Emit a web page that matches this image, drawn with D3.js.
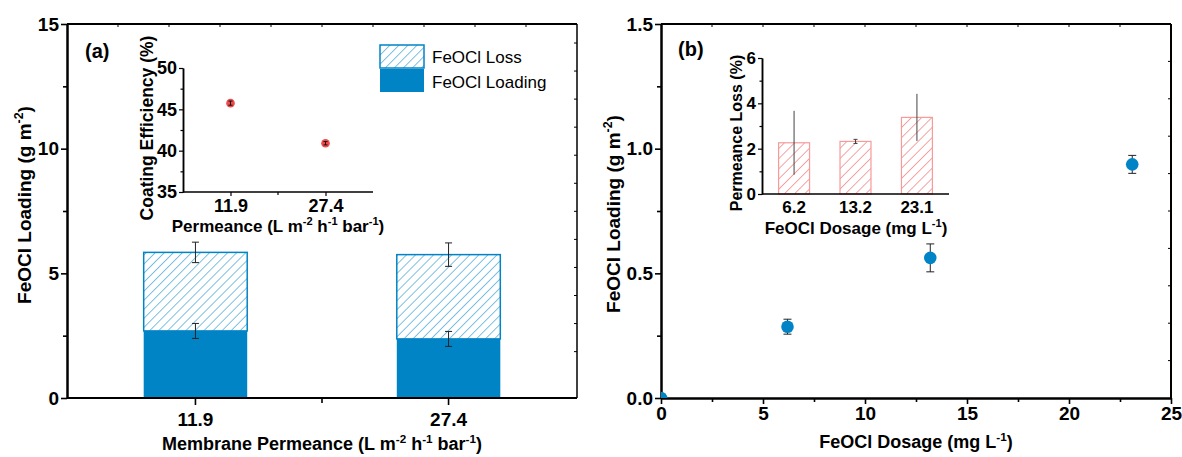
<!DOCTYPE html>
<html lang="en">
<head>
    <meta charset="UTF-8">
    <title>FeOCl loading</title>
    <script src="https://cdn.jsdelivr.net/npm/d3@7"></script>
    <style>
        body { margin: 0; background: #fff; font-family: Arial, "Liberation Sans", sans-serif; }
        svg text { font-family: Arial, "Liberation Sans", sans-serif; }
    </style>
</head>
<body>
<svg id="chart" width="1182" height="457"></svg>
<script>
// ---- data ----
const permeances = ["11.9", "27.4"];
const loadingVals = [2.69, 2.37];
const loadingErr = [0.30, 0.30];
const totalVals = [5.84, 5.75];          // loading + loss
const totalErr = [0.41, 0.47];

const efficiencyVals = [45.75, 40.9];
const efficiencyErr = [0.25, 0.2];

const dosages = [0, 6.2, 13.2, 23.1];
const dosageLoading = [0, 0.286, 0.562, 0.937];
const dosageLoadingErr = [0, 0.03, 0.056, 0.036];

const lossDosages = ["6.2", "13.2", "23.1"];
const permeanceLoss = [2.26, 2.32, 3.38];
const permeanceLossErr = [1.41, 0.09, 1.04];

const yTicksA = [0, 5, 10, 15];
const yTicksB = [0, 0.5, 1.0, 1.5];
const xTicksB = [0, 5, 10, 15, 20, 25];
const insetTicksA = [35, 40, 45, 50];
const insetTicksB = [0, 2, 4, 6];

const blue = "#0084c6";
const red = "#f04a4a";

const svg = d3.select("#chart");
svg.append("rect").attr("width", 1182).attr("height", 457).attr("fill", "#fff");

const defs = svg.append("defs");
function hatch(id, color, gap) {
    const p = defs.append("pattern").attr("id", id)
        .attr("patternUnits", "userSpaceOnUse")
        .attr("width", gap).attr("height", gap)
        .attr("patternTransform", "rotate(45)");
    p.append("rect").attr("width", gap).attr("height", gap).attr("fill", "#fff");
    p.append("line").attr("x1", 0).attr("y1", 0).attr("x2", 0).attr("y2", gap)
        .attr("stroke", color).attr("stroke-width", 1);
}
hatch("hatchBlue", blue, 6.4);
hatch("hatchRed", red, 7.2);

// text with superscripts: parts = [[text, isSup], ...]
function richText(g, parts, x, y, size, opts = {}) {
    const t = g.append("text").attr("x", x).attr("y", y)
        .style("font-size", size + "px").style("font-weight", opts.weight || "bold")
        .attr("text-anchor", opts.anchor || "middle").attr("fill", "#000");
    if (opts.rotate) t.attr("transform", `rotate(-90,${x},${y})`);
    let up = false;
    parts.forEach(([s, sup]) => {
        const ts = t.append("tspan").text(s);
        if (sup && !up) { ts.attr("dy", -size * 0.4).style("font-size", (size * 0.65) + "px"); up = true; }
        else if (sup) { ts.style("font-size", (size * 0.65) + "px"); }
        else if (!sup && up) { ts.attr("dy", size * 0.4); up = false; }
    });
    return t;
}

function errBar(g, x, y0, y1, cap, color) {
    g.append("line").attr("x1", x).attr("x2", x).attr("y1", y0).attr("y2", y1)
        .attr("stroke", color).attr("stroke-width", 1);
    if (cap > 0) {
        [y0, y1].forEach(yy => g.append("line").attr("x1", x - cap).attr("x2", x + cap)
            .attr("y1", yy).attr("y2", yy).attr("stroke", color).attr("stroke-width", 1));
    }
}

function styleAxis(sel, size, sw) {
    sel.attr("font-family", null).attr("font-size", null);
    sel.selectAll("path").attr("stroke", "#000").attr("stroke-width", sw);
    sel.selectAll("line").attr("stroke", "#000").attr("stroke-width", sw * 0.8);
    sel.selectAll("text").style("font-size", size + "px").style("font-weight", "bold").attr("fill", "#000");
}

function mids(vals) {
    const out = [];
    for (let i = 0; i < vals.length - 1; i++) out.push((vals[i] + vals[i + 1]) / 2);
    return out;
}

// =================== panel (a) ===================
const A = { l: 67, r: 577, t: 24, b: 398 };
const xA = d3.scaleBand().domain(permeances).range([A.l, A.r]).paddingInner(0.591).paddingOuter(0.303);
const yA = d3.scaleLinear().domain([0, 15]).range([A.b, A.t]);
const gA = svg.append("g");

// bars
permeances.forEach((p, i) => {
    gA.append("rect").attr("x", xA(p)).attr("width", xA.bandwidth())
        .attr("y", yA(totalVals[i])).attr("height", yA(loadingVals[i]) - yA(totalVals[i]))
        .attr("fill", "url(#hatchBlue)").attr("stroke", blue).attr("stroke-width", 1.5);
    gA.append("rect").attr("x", xA(p)).attr("width", xA.bandwidth())
        .attr("y", yA(loadingVals[i])).attr("height", yA(0) - yA(loadingVals[i]))
        .attr("fill", blue);
    const cx = xA(p) + xA.bandwidth() / 2;
    errBar(gA, cx, yA(totalVals[i] + totalErr[i]), yA(totalVals[i] - totalErr[i]), 3.5, "#222");
    errBar(gA, cx, yA(loadingVals[i] + loadingErr[i]), yA(loadingVals[i] - loadingErr[i]), 3.5, "#222");
});

// axes
gA.append("g").attr("transform", `translate(${A.l},0)`)
    .call(d3.axisLeft(yA).tickValues(yTicksA).tickFormat(d3.format("d")).tickSize(6).tickSizeOuter(0).tickPadding(2))
    .call(s => styleAxis(s, 19, 2));
gA.append("g").attr("transform", `translate(${A.l},0)`)
    .call(d3.axisLeft(yA).tickValues(mids(yTicksA)).tickSize(4).tickFormat("").tickSizeOuter(0))
    .call(s => styleAxis(s, 19, 2));
gA.append("g").attr("transform", `translate(0,${A.b})`)
    .call(d3.axisBottom(xA).tickSize(7).tickSizeOuter(0).tickPadding(8))
    .call(s => styleAxis(s, 19, 2))
    .call(s => s.select("path").attr("d", `M${A.l},0H${A.r}`));
const midA = d3.mean(permeances, p => xA(p) + xA.bandwidth() / 2);
gA.append("line").attr("x1", midA).attr("x2", midA)
    .attr("y1", A.b).attr("y2", A.b + 5).attr("stroke", "#000").attr("stroke-width", 1.6);
// top & right frame with inner ticks
gA.append("line").attr("x1", A.l).attr("x2", A.r).attr("y1", A.t).attr("y2", A.t).attr("stroke", "#000").attr("stroke-width", 2);
gA.append("line").attr("x1", A.r).attr("x2", A.r).attr("y1", A.t).attr("y2", A.b).attr("stroke", "#000").attr("stroke-width", 1.5);
const topA = d3.scaleLinear().domain([0, 10]).range([A.l, A.r]);
d3.range(1, 10).forEach(k => gA.append("line").attr("x1", topA(k)).attr("x2", topA(k))
    .attr("y1", A.t).attr("y2", A.t + 3).attr("stroke", "#000").attr("stroke-width", 1));
const rightA = d3.scaleLinear().domain([0, 13.33]).range([A.t + 19, A.t + 19 + 374]);
d3.range(0, 12).forEach(k => gA.append("line").attr("x1", A.r).attr("x2", A.r - 3)
    .attr("y1", rightA(k)).attr("y2", rightA(k)).attr("stroke", "#000").attr("stroke-width", 1));

richText(gA, [["FeOCl Loading (g m"], ["-2", true], [")"]], 31, 205, 19, { rotate: true });
richText(gA, [["Membrane Permeance (L m"], ["-2", true], [" h"], ["-1", true], [" bar"], ["-1", true], [")"]], 322, 450, 18);
gA.append("text").attr("x", 85).attr("y", 58).style("font-size", "20px").style("font-weight", "bold").text("(a)");

// legend
const legA = gA.append("g");
legA.append("rect").attr("x", 380).attr("y", 45).attr("width", 44).attr("height", 23)
    .attr("fill", "url(#hatchBlue)").attr("stroke", blue).attr("stroke-width", 1.5);
legA.append("rect").attr("x", 380).attr("y", 69).attr("width", 44).attr("height", 23)
    .attr("fill", blue);
legA.append("text").attr("x", 432).attr("y", 63).style("font-size", "17px").text("FeOCl Loss");
legA.append("text").attr("x", 432).attr("y", 88).style("font-size", "17px").text("FeOCl Loading");

// inset (a)
const IA = { l: 183, r: 373, t: 68, b: 192 };
const xIA = d3.scalePoint().domain(permeances).range([IA.l, IA.r]).padding(0.5);
const yIA = d3.scaleLinear().domain([35, 50]).range([IA.b, IA.t]);
const gIA = svg.append("g");
gIA.append("g").attr("transform", `translate(${IA.l},0)`)
    .call(d3.axisLeft(yIA).tickValues(insetTicksA).tickFormat(d3.format("d")).tickSize(4).tickSizeOuter(0).tickPadding(2))
    .call(s => styleAxis(s, 18, 1.5));
gIA.append("g").attr("transform", `translate(${IA.l},0)`)
    .call(d3.axisLeft(yIA).tickValues(mids(insetTicksA)).tickSize(2.5).tickFormat("").tickSizeOuter(0))
    .call(s => styleAxis(s, 18, 1.5));
gIA.append("g").attr("transform", `translate(0,${IA.b})`)
    .call(d3.axisBottom(xIA).tickSize(4).tickSizeOuter(0).tickPadding(3))
    .call(s => styleAxis(s, 18, 1.5))
    .call(s => s.select("path").attr("d", `M${IA.l},0H${IA.r}`));
const midIA = d3.mean(permeances, p => xIA(p));
gIA.append("line").attr("x1", midIA).attr("x2", midIA)
    .attr("y1", IA.b).attr("y2", IA.b + 3).attr("stroke", "#000").attr("stroke-width", 1.2);
permeances.forEach((p, i) => {
    gIA.append("circle").attr("cx", xIA(p)).attr("cy", yIA(efficiencyVals[i])).attr("r", 4.3).attr("fill", red);
    errBar(gIA, xIA(p), yIA(efficiencyVals[i] + efficiencyErr[i]), yIA(efficiencyVals[i] - efficiencyErr[i]), 2, "#111");
});
richText(gIA, [["Coating Efficiency (%)"]], 153, 128, 17.5, { rotate: true });
richText(gIA, [["Permeance (L m"], ["-2", true], [" h"], ["-1", true], [" bar"], ["-1", true], [")"]], 278, 232, 17);

// =================== panel (b) ===================
const B = { l: 661, r: 1171, t: 24, b: 398 };
const xB = d3.scaleLinear().domain([0, 25]).range([B.l, B.r]);
const yB = d3.scaleLinear().domain([0, 1.5]).range([B.b, B.t]);
const gB = svg.append("g");

defs.append("clipPath").attr("id", "clipB").append("rect")
    .attr("x", B.l).attr("y", B.t).attr("width", B.r - B.l).attr("height", B.b - B.t);

gB.append("g").attr("transform", `translate(${B.l},0)`)
    .call(d3.axisLeft(yB).tickValues(yTicksB).tickFormat(d3.format(".1f")).tickSize(6).tickSizeOuter(0).tickPadding(2))
    .call(s => styleAxis(s, 19, 2));
gB.append("g").attr("transform", `translate(${B.l},0)`)
    .call(d3.axisLeft(yB).tickValues(mids(yTicksB)).tickSize(4).tickFormat("").tickSizeOuter(0))
    .call(s => styleAxis(s, 19, 2));
gB.append("g").attr("transform", `translate(0,${B.b})`)
    .call(d3.axisBottom(xB).tickValues(xTicksB).tickFormat(d3.format("d")).tickSize(6).tickSizeOuter(0).tickPadding(3))
    .call(s => styleAxis(s, 19, 2));
gB.append("g").attr("transform", `translate(0,${B.b})`)
    .call(d3.axisBottom(xB).tickValues(mids(xTicksB)).tickSize(4).tickFormat("").tickSizeOuter(0))
    .call(s => styleAxis(s, 19, 2));
gB.append("line").attr("x1", B.l).attr("x2", B.r).attr("y1", B.t).attr("y2", B.t).attr("stroke", "#000").attr("stroke-width", 2);
gB.append("line").attr("x1", B.r).attr("x2", B.r).attr("y1", B.t).attr("y2", B.b).attr("stroke", "#000").attr("stroke-width", 2);
d3.range(2.5, 25, 2.5).forEach(v => gB.append("line").attr("x1", xB(v)).attr("x2", xB(v))
    .attr("y1", B.t).attr("y2", B.t + 3).attr("stroke", "#000").attr("stroke-width", 1));
const rightB = d3.scaleLinear().domain([0, 10]).range([B.t, B.b]);
d3.range(1, 10).forEach(k => gB.append("line").attr("x1", B.r).attr("x2", B.r - 3)
    .attr("y1", rightB(k)).attr("y2", rightB(k)).attr("stroke", "#000").attr("stroke-width", 1));

const ptsB = gB.append("g").attr("clip-path", "url(#clipB)");
dosages.forEach((d, i) => {
    if (dosageLoadingErr[i] > 0) {
        errBar(ptsB, xB(d), yB(dosageLoading[i] + dosageLoadingErr[i]), yB(dosageLoading[i] - dosageLoadingErr[i]), 4, "#222");
    }
    ptsB.append("circle").attr("cx", xB(d)).attr("cy", yB(dosageLoading[i])).attr("r", 6.3).attr("fill", blue);
});

richText(gB, [["FeOCl Loading (g m"], ["-2", true], [")"]], 620, 214, 19, { rotate: true });
richText(gB, [["FeOCl Dosage (mg L"], ["-1", true], [")"]], 916, 448, 18);
gB.append("text").attr("x", 678).attr("y", 56).style("font-size", "20px").style("font-weight", "bold").text("(b)");

// inset (b)
const IB = { l: 762, r: 949, t: 58, b: 194 };
const xIB = d3.scaleBand().domain(lossDosages).range([IB.l, IB.r]).paddingInner(0.496).paddingOuter(0.27);
const yIB = d3.scaleLinear().domain([0, 6]).range([IB.b, IB.t]);
const gIB = svg.append("g");
lossDosages.forEach((d, i) => {
    gIB.append("rect").attr("x", xIB(d)).attr("width", xIB.bandwidth())
        .attr("y", yIB(permeanceLoss[i])).attr("height", yIB(0) - yIB(permeanceLoss[i]))
        .attr("fill", "url(#hatchRed)").attr("stroke", "#f79a9a").attr("stroke-width", 1.2);
    const cx = xIB(d) + xIB.bandwidth() / 2;
    errBar(gIB, cx, yIB(permeanceLoss[i] + permeanceLossErr[i]), yIB(permeanceLoss[i] - permeanceLossErr[i]),
        permeanceLossErr[i] < 0.5 ? 2 : 0, "#444");
});
gIB.append("g").attr("transform", `translate(${IB.l},0)`)
    .call(d3.axisLeft(yIB).tickValues(insetTicksB).tickFormat(d3.format("d")).tickSize(4).tickSizeOuter(0).tickPadding(2))
    .call(s => styleAxis(s, 17, 1.5));
gIB.append("g").attr("transform", `translate(${IB.l},0)`)
    .call(d3.axisLeft(yIB).tickValues(mids(insetTicksB)).tickSize(2.5).tickFormat("").tickSizeOuter(0))
    .call(s => styleAxis(s, 17, 1.5));
gIB.append("g").attr("transform", `translate(0,${IB.b})`)
    .call(d3.axisBottom(xIB).tickSize(0).tickSizeOuter(0).tickPadding(7))
    .call(s => styleAxis(s, 17, 1.5))
    .call(s => s.select("path").attr("d", `M${IB.l},0H${IB.r}`));
richText(gIB, [["Permeance Loss (%)"]], 742, 133, 16, { rotate: true });
richText(gIB, [["FeOCl Dosage (mg L"], ["-1", true], [")"]], 856, 234, 17);
</script>
</body>
</html>
